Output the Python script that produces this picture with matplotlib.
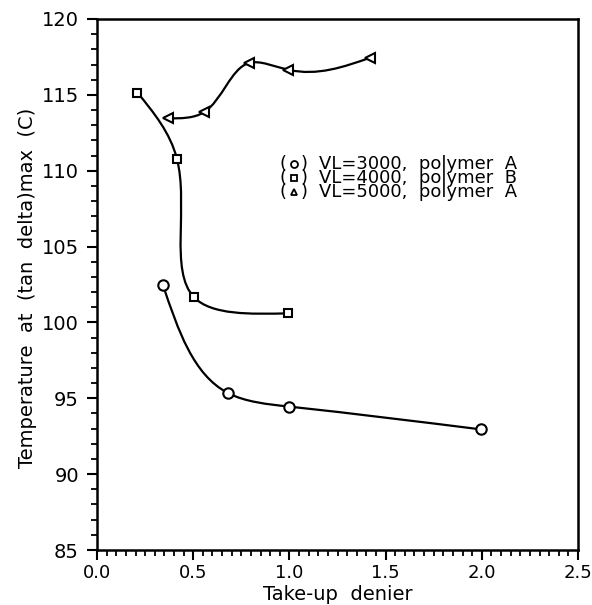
import numpy as np
import matplotlib
matplotlib.use('Agg')
import matplotlib.pyplot as plt
from matplotlib.path import Path
from matplotlib.patches import PathPatch
from matplotlib.ticker import MultipleLocator, FormatStrFormatter

# data
x_vl3000 = [0.343, 0.68, 1.0, 1.995]
y_vl3000 = [102.45, 95.35, 94.45, 92.95]

x_vl4000 = [0.21, 0.415, 0.505, 0.995]
y_vl4000 = [115.15, 110.8, 101.65, 100.6]

x_vl5000 = [0.37, 0.555, 0.79, 0.995, 1.42]
y_vl5000 = [113.45, 113.85, 117.1, 116.65, 117.45]

legend_labels = ['VL=3000,  polymer  A', 'VL=4000,  polymer  B', 'VL=5000,  polymer  A']

XLIM = (0.0, 2.5)
YLIM = (85, 120)
ASPECT = 531.0 / 481.0  # axes height / width in pixels


def smooth_path(xs, ys):
    """Parametric natural cubic spline (chord length) drawn as bezier path."""
    sx = XLIM[1] - XLIM[0]
    sy = (YLIM[1] - YLIM[0]) / ASPECT
    P = np.column_stack([(np.array(xs) - XLIM[0]) / sx, (np.array(ys) - YLIM[0]) / sy])
    n = len(P)
    h = np.linalg.norm(np.diff(P, axis=0), axis=1)
    A = np.zeros((n, n))
    B = np.zeros((n, 2))
    A[0, 0], A[0, 1] = 2, 1
    B[0] = 3 * (P[1] - P[0]) / h[0]
    A[-1, -2], A[-1, -1] = 1, 2
    B[-1] = 3 * (P[-1] - P[-2]) / h[-1]
    for i in range(1, n - 1):
        A[i, i - 1] = h[i]
        A[i, i] = 2 * (h[i - 1] + h[i])
        A[i, i + 1] = h[i - 1]
        B[i] = 3 * (h[i] * (P[i] - P[i - 1]) / h[i - 1] + h[i - 1] * (P[i + 1] - P[i]) / h[i])
    D = np.linalg.solve(A, B)
    verts = [P[0]]
    codes = [Path.MOVETO]
    for i in range(n - 1):
        verts += [P[i] + D[i] * h[i] / 3, P[i + 1] - D[i + 1] * h[i] / 3, P[i + 1]]
        codes += [Path.CURVE4] * 3
    V = np.array(verts)
    V[:, 0] = V[:, 0] * sx + XLIM[0]
    V[:, 1] = V[:, 1] * sy + YLIM[0]
    return Path(V, codes)


plt.rcParams['font.family'] = 'DejaVu Sans'

fig = plt.figure(figsize=(5.92, 6.05), dpi=100)
ax = fig.add_axes([0.1639, 0.0909, 0.8125, 0.8777])

series = [(x_vl3000, y_vl3000, 'o', 7.5),
          (x_vl4000, y_vl4000, 's', 5.8),
          (x_vl5000, y_vl5000, '<', 6.8)]
for xs, ys, m, ms in series:
    ax.add_patch(PathPatch(smooth_path(xs, ys), fill=False, lw=1.6, color='black'))
    ax.plot(xs, ys, ls='none', marker=m, ms=ms, mfc='white', mec='black', mew=1.5, zorder=3)

ax.set_xlim(*XLIM)
ax.set_ylim(*YLIM)
ax.xaxis.set_major_locator(MultipleLocator(0.5))
ax.xaxis.set_minor_locator(MultipleLocator(0.05))
ax.yaxis.set_major_locator(MultipleLocator(5))
ax.yaxis.set_minor_locator(MultipleLocator(1))
ax.xaxis.set_major_formatter(FormatStrFormatter('%.1f'))
ax.tick_params(which='major', direction='out', length=7, width=1.5, labelsize=14, pad=3)
ax.tick_params(axis='x', which='major', labelsize=13)
ax.tick_params(which='minor', direction='out', length=4, width=1.3)
ax.tick_params(axis='y', which='major', pad=6)
for sp in ax.spines.values():
    sp.set_linewidth(1.8)

fig.text(0.570, 0.018, 'Take-up  denier', fontsize=14, ha='center', va='center')
fig.text(0.046, 0.524, 'Temperature  at  (tan  delta)max  (C)', fontsize=14,
         ha='center', va='center', rotation=90)

# legend as bracketed markers with text
leg_markers = ['o', 's', '^']
leg_y = [0.727, 0.701, 0.675]
ax.text(0.387, leg_y[1], '(\n(\n(', transform=ax.transAxes, fontsize=13,
        ha='center', va='center', linespacing=0.72)
ax.text(0.431, leg_y[1], ')\n)\n)', transform=ax.transAxes, fontsize=13,
        ha='center', va='center', linespacing=0.72)
ax.text(0.462, leg_y[1], '\n'.join(legend_labels), transform=ax.transAxes, fontsize=13,
        ha='left', va='center', linespacing=0.72)
for m, yy in zip(leg_markers, leg_y):
    ax.plot([0.409], [yy], transform=ax.transAxes, marker=m, ms=5, mfc='white',
            mec='black', mew=1.3, ls='none')

fig.savefig('out.png', dpi=100)
